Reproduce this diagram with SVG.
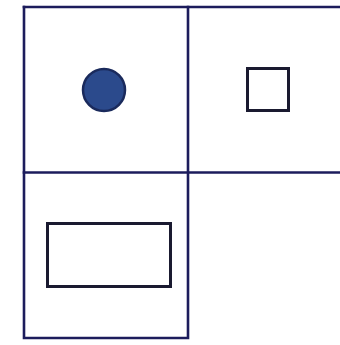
<svg xmlns="http://www.w3.org/2000/svg" width="340" height="345" viewBox="0 0 340 345">
<style>
.grid{stroke:#1c1c5c;stroke-width:2.6;fill:none;stroke-linecap:square}
.shape{stroke:#1a1a30;stroke-width:3;fill:none}
</style>
<rect width="340" height="345" fill="#ffffff"/>
<g id="connectors">
<path class="grid" d="M24,7 H340"/>
<path class="grid" d="M24,172.5 H340"/>
<path class="grid" d="M24,7 V338 H188 V7"/>
</g>
<g id="circle"><circle cx="104" cy="90" r="21" fill="#2b4a8c" stroke="#1a2a5c" stroke-width="2.5"/></g>
<g id="square"><rect class="shape" x="247.5" y="68.5" width="41" height="42"/></g>
<g id="rectangle"><rect class="shape" x="47.5" y="223.5" width="123" height="63"/></g>
</svg>
